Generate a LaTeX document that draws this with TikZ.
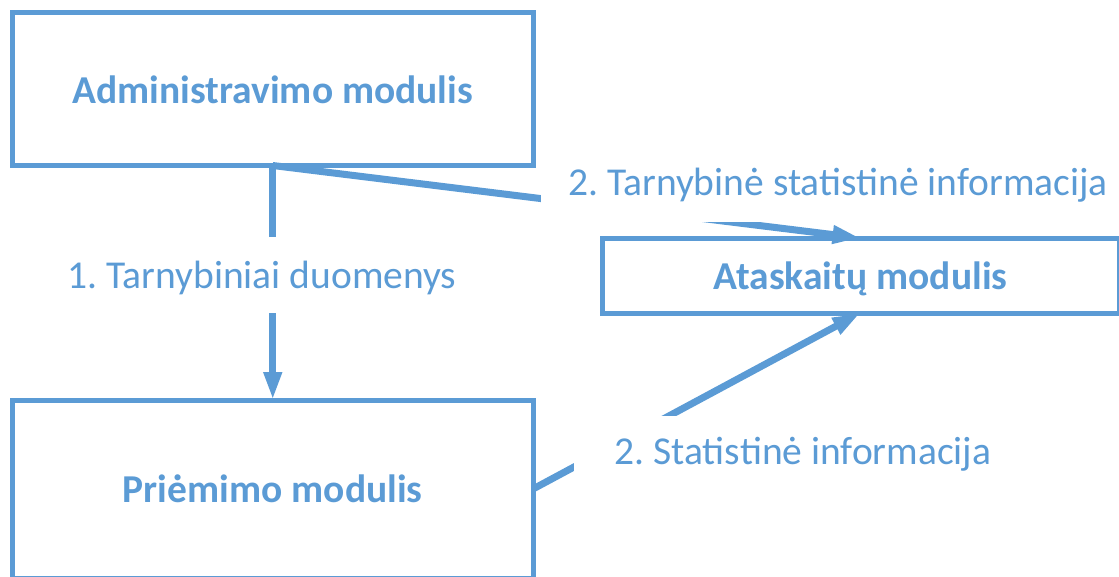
\documentclass[tikz,border=0pt]{standalone}
\usepackage{fontspec}
\setmainfont{Carlito}
\usetikzlibrary{arrows.meta}
\definecolor{mblue}{HTML}{5B9BD5}
\frenchspacing
\newcommand{\lowtext}[2][3pt]{\raisebox{-#1}[\height][\depth]{#2}}
\begin{document}
\begin{tikzpicture}[x=1pt,y=-1pt,
  box/.style={draw=mblue, line width=5pt, rectangle, inner sep=0pt, outer sep=0pt,
    text=mblue, font=\bfseries\fontsize{39.5}{47}\selectfont},
  conn/.style={draw=mblue, line width=7pt, -{Triangle[length=28pt,width=17pt]}},
  lbl/.style={fill=white, inner sep=0pt, outer sep=0pt, text=mblue,
    font=\fontsize{39.5}{47}\selectfont}]
\useasboundingbox (0,0) rectangle (1119,576);
\clip (0,0) rectangle (1119,576);
\node[box, minimum width=520.5pt, minimum height=153pt] (adm) at (272.75,89) {\lowtext[1pt]{Administravimo modulis}};
\node[box, minimum width=517pt, minimum height=75pt] (ata) at (860.5,275.5) {\lowtext[3pt]{Ataskaitų modulis}};
\node[box, minimum width=520.5pt, minimum height=178pt] (pri) at (272.75,489) {Priėmimo modulis};
\draw[conn] (adm.south) -- (pri.north);
\draw[conn] (adm.south) -- (ata.north);
\draw[conn] (pri.east) -- (ata.south);
\node[lbl, minimum width=400pt, minimum height=76pt] (l1) at (262,275) {\lowtext[3pt]{1. Tarnybiniai duomenys}};
\node[lbl, minimum width=594pt, minimum height=78pt] (l2) at (838,183) {\lowtext[2pt]{2. Tarnybinė statistinė informacija}};
\node[lbl, minimum width=458pt, minimum height=74pt] (l3) at (803,453) {\lowtext[1pt]{2. Statistinė informacija}};
\end{tikzpicture}
\end{document}
